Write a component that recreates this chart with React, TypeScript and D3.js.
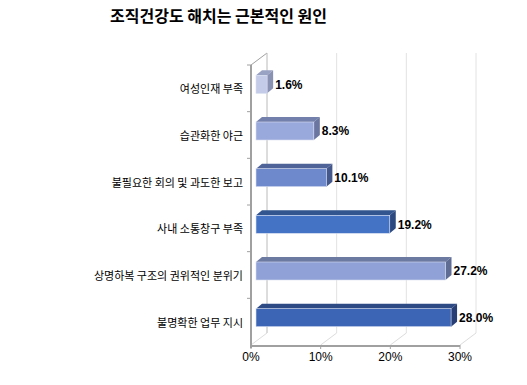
import React from "react";
import * as d3 from "d3";

const categories = [
  "여성인재 부족",
  "습관화한 야근",
  "불필요한 회의 및 과도한 보고",
  "사내 소통창구 부족",
  "상명하복 구조의 권위적인 분위기",
  "불명확한 업무 지시",
];
const values = [1.6, 8.3, 10.1, 19.2, 27.2, 28.0];
const ticks = [0, 10, 20, 30];
const frontColors = ["#c3cbe9", "#9aa9db", "#6e89cc", "#4472c4", "#8fa1d6", "#3d65b5"];
const topColors = ["#9aa2c4", "#7480ac", "#4f6399", "#32548f", "#6c79a1", "#2d4a85"];
const sideColors = ["#8a92b4", "#6a76a0", "#45588c", "#2c4a80", "#5f6c94", "#273f75"];

const W = 527;
const H = 385;
const DX = 16; // wall depth
const DY = -12;

export default function App() {
  const x = d3.scaleLinear().domain([0, 30]).range([251, 460]);
  const y = d3.scaleBand().domain(categories).range([65, 345]);
  const x0 = x(0);
  const yTop = 65;
  const yBot = 345;

  const barH = 18;
  const bdx = 6;
  const bdy = -5;
  const off = 5; // bars sit in middle of the depth

  return (
    <svg width={W} height={H} style={{ position: "absolute", left: 0, top: 0, background: "#fff" }}>
      <text x={110} y={22} fontFamily="'Noto Sans CJK KR'" fontWeight="bold" fontSize={16} fill="#000">
        조직건강도 해치는 근본적인 원인
      </text>

      {/* back wall grid */}
      {ticks.map((t) => (
        <g key={t}>
          <line x1={x(t) + DX} y1={yTop + DY} x2={x(t) + DX} y2={yBot + DY} stroke="#e2e2e2" />
          <line x1={x(t)} y1={yBot} x2={x(t) + DX} y2={yBot + DY} stroke="#dcdcdc" />
        </g>
      ))}
      <line x1={x0} y1={yTop} x2={x0 + DX} y2={yTop + DY} stroke="#a0a0a0" />
      <line x1={x0 + DX} y1={yTop + DY} x2={x0 + DX} y2={yBot + DY} stroke="#c8c8c8" />

      {/* axes */}
      <line x1={x0} y1={yTop} x2={x0} y2={yBot + 3} stroke="#a0a0a0" strokeWidth={2} />
      <line x1={x0 - 1} y1={yBot + 1} x2={x(30)} y2={yBot + 1} stroke="#a0a0a0" strokeWidth={2} />
      {categories.map((c) => (
        <line key={c} x1={x0 - 4} y1={y(c) as number} x2={x0} y2={y(c) as number} stroke="#a0a0a0" />
      ))}
      {ticks.map((t) => (
        <line key={t} x1={x(t)} y1={yBot} x2={x(t)} y2={yBot + 4} stroke="#a0a0a0" />
      ))}

      {/* bars */}
      {categories.map((c, i) => {
        const cy = (y(c) as number) + y.bandwidth() / 2 - 4;
        const xl = x0 + off;
        const xr = x(values[i]) + off;
        const t = cy - barH / 2;
        const b = cy + barH / 2;
        return (
          <g key={c}>
            <polygon
              points={`${xl},${t} ${xl + bdx},${t + bdy} ${xr + bdx},${t + bdy} ${xr},${t}`}
              fill={topColors[i]}
            />
            <polygon
              points={`${xr},${t} ${xr + bdx},${t + bdy} ${xr + bdx},${b + bdy} ${xr},${b}`}
              fill={sideColors[i]}
            />
            <rect x={xl} y={t} width={xr - xl} height={barH} fill={frontColors[i]} stroke="#d8def0" strokeWidth={0.6} />
            <text
              x={xr + bdx + 2}
              y={cy}
              dy="0.35em"
              fontFamily="'Liberation Sans', Arial"
              fontWeight="bold"
              fontSize={12}
              fill="#000"
            >
              {values[i].toFixed(1)}%
            </text>
            <text
              x={243}
              y={(y(c) as number) + y.bandwidth() / 2 + 1}
              dy="0.35em"
              textAnchor="end"
              fontFamily="'Noto Sans CJK KR'"
              fontSize={11}
              fill="#000"
            >
              {c}
            </text>
          </g>
        );
      })}

      {/* x tick labels */}
      {ticks.map((t) => (
        <text
          key={t}
          x={x(t)}
          y={357}
          dy="0.35em"
          textAnchor="middle"
          fontFamily="'Liberation Sans', Arial"
          fontSize={12}
          fill="#000"
        >
          {t}%
        </text>
      ))}
    </svg>
  );
}
